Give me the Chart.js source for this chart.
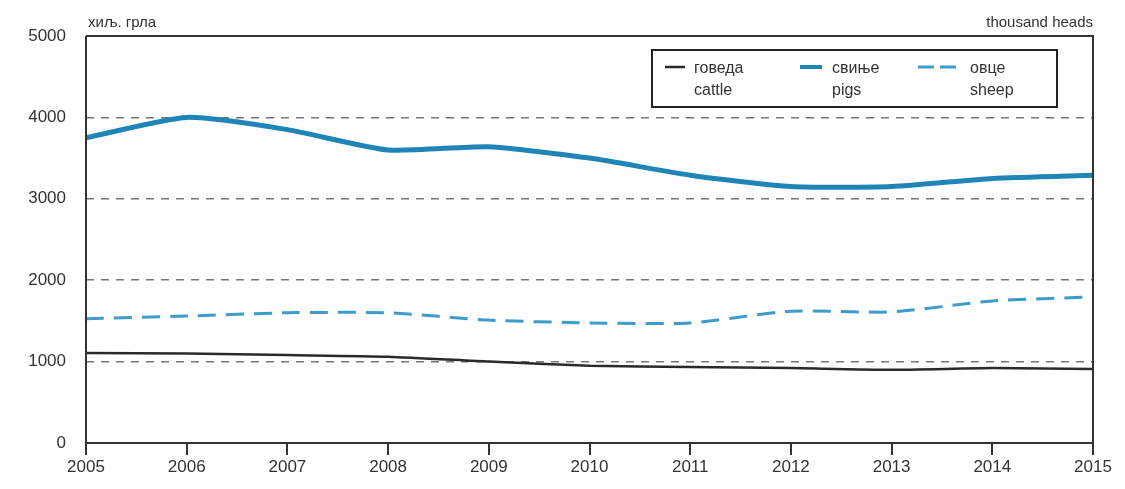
<!DOCTYPE html>
<html>
<head>
<meta charset="utf-8">
<script src="https://cdn.jsdelivr.net/npm/chart.js@4/dist/chart.umd.min.js"></script>
<style>
  html, body { margin: 0; padding: 0; background: #fff; }
  #wrap { width: 1125px; height: 489px; position: relative; }
</style>
</head>
<body>
<div id="wrap"><canvas id="my-chart" width="1125" height="489"></canvas></div>
<script>
// years on the x axis
const years = ['2005', '2006', '2007', '2008', '2009', '2010', '2011', '2012', '2013', '2014', '2015'];
// thousand heads
const cattle = [1105, 1100, 1080, 1060, 1000, 950, 935, 920, 900, 920, 910];
const pigs = [3750, 4000, 3850, 3600, 3640, 3500, 3290, 3150, 3150, 3250, 3290];
const sheep = [1525, 1560, 1600, 1600, 1510, 1475, 1475, 1620, 1610, 1745, 1795];
const legendLabels = [['говеда', 'cattle'], ['свиње', 'pigs'], ['овце', 'sheep']];
const unitLeft = 'хиљ. грла';
const unitRight = 'thousand heads';

const textColor = '#333';
const font = '"Liberation Sans", Arial, sans-serif';

// box round the plot, unit labels and the legend
const extras = {
  id: 'extras',
  afterDraw(chart) {
    const ctx = chart.ctx;
    const a = chart.chartArea;
    ctx.save();
    ctx.strokeStyle = '#333';
    ctx.lineWidth = 2;
    ctx.setLineDash([]);
    ctx.beginPath();
    ctx.moveTo(a.left, a.top);
    ctx.lineTo(a.right, a.top);
    ctx.lineTo(a.right, a.bottom);
    ctx.moveTo(a.left, a.top);
    ctx.lineTo(a.left, a.bottom);
    ctx.stroke();

    ctx.fillStyle = textColor;
    ctx.font = '15px ' + font;
    ctx.textBaseline = 'alphabetic';
    ctx.textAlign = 'left';
    ctx.fillText(unitLeft, a.left + 2, 27);
    ctx.textAlign = 'right';
    ctx.fillText(unitRight, a.right, 27);

    // legend
    const lx = 652, ly = 50, lw = 405, lh = 57;
    ctx.fillStyle = '#fff';
    ctx.fillRect(lx, ly, lw, lh);
    ctx.strokeStyle = '#222';
    ctx.lineWidth = 2;
    ctx.strokeRect(lx, ly, lw, lh);
    const slots = [{x: 665, len: 20, tx: 694}, {x: 800, len: 22, tx: 832}, {x: 918, len: 40, tx: 970}];
    chart.data.datasets.forEach((ds, i) => {
      const s = slots[i];
      ctx.strokeStyle = ds.borderColor;
      ctx.lineWidth = Math.min(ds.borderWidth, 4);
      ctx.setLineDash(ds.borderDash ? [16, 6] : []);
      ctx.beginPath();
      ctx.moveTo(s.x, 67);
      ctx.lineTo(s.x + s.len, 67);
      ctx.stroke();
      ctx.setLineDash([]);
      ctx.fillStyle = textColor;
      ctx.textAlign = 'left';
      ctx.font = '16px ' + font;
      ctx.fillText(legendLabels[i][0], s.tx, 73);
      ctx.fillText(legendLabels[i][1], s.tx, 95);
    });
    ctx.restore();
  }
};

const myChart = document.getElementById('my-chart').getContext('2d');
const lineChart = new Chart(myChart, {
  type: 'line',
  data: {
    labels: years,
    datasets: [
      {
        label: 'cattle',
        data: cattle,
        borderColor: '#2a2a2a',
        borderWidth: 2.5,
        pointRadius: 0,
        tension: 0.2,
        fill: false,
      },
      {
        label: 'pigs',
        data: pigs,
        borderColor: '#1f84b6',
        borderWidth: 5,
        pointRadius: 0,
        tension: 0.2,
        fill: false,
      },
      {
        label: 'sheep',
        data: sheep,
        borderColor: '#3d9ccb',
        borderWidth: 3,
        borderDash: [18, 10],
        pointRadius: 0,
        tension: 0.2,
        fill: false,
      },
    ],
  },
  options: {
    responsive: false,
    animation: false,
    layout: {
      padding: { left: 0, right: 32, top: 36, bottom: 0 }
    },
    plugins: {
      legend: { display: false },
      tooltip: { enabled: false },
    },
    scales: {
      x: {
        offset: false,
        afterFit: (scale) => { scale.height = 46; },
        border: { display: true, color: '#333', width: 2 },
        grid: { drawOnChartArea: false, drawTicks: true, tickLength: 12, color: '#333', lineWidth: 2 },
        ticks: { color: textColor, font: { family: font, size: 17 }, padding: 2, maxRotation: 0, autoSkip: false },
      },
      y: {
        min: 0,
        max: 5000,
        afterFit: (scale) => { scale.width = 86; },
        border: { display: false, dash: [8, 7] },
        grid: {
          drawTicks: false,
          color: (c) => (c.tick.value === 0 || c.tick.value === 5000) ? 'rgba(0,0,0,0)' : '#777',
          lineWidth: 1.5,
        },
        ticks: {
          stepSize: 1000,
          color: textColor,
          font: { family: font, size: 17 },
          padding: 20,
          callback: (v) => String(v),
        },
      },
    },
  },
  plugins: [extras],
});
</script>
</body>
</html>
